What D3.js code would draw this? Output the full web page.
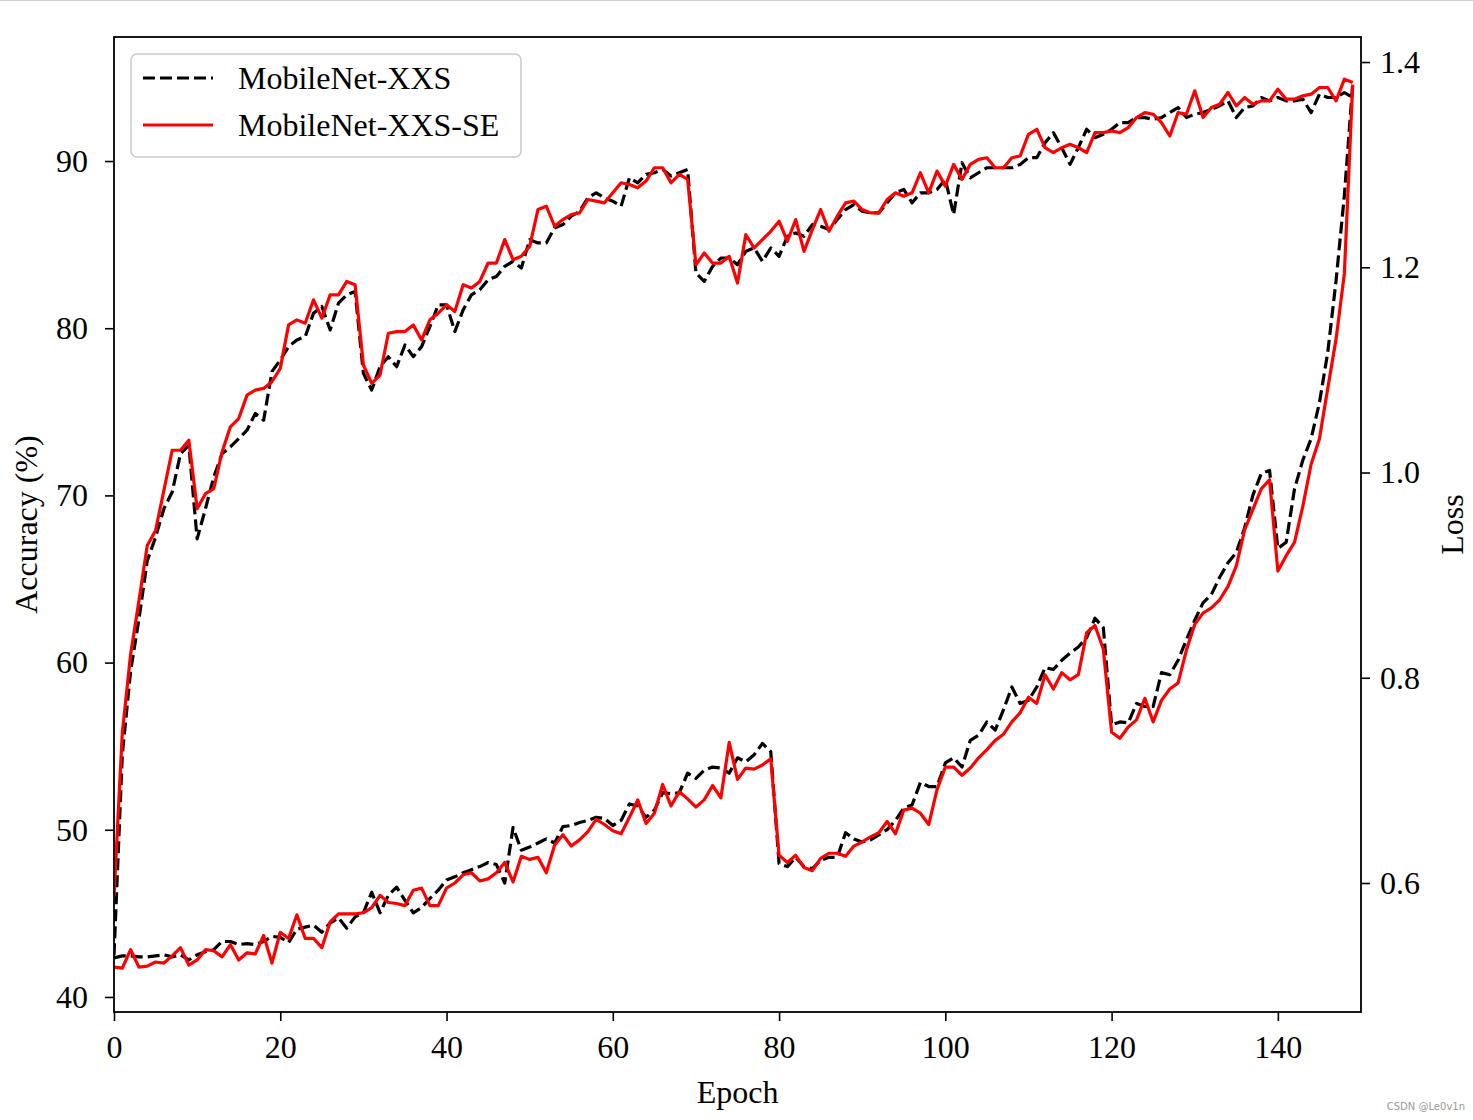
<!DOCTYPE html>
<html><head><meta charset="utf-8">
<script src="https://cdn.jsdelivr.net/npm/d3@7/dist/d3.min.js"></script>
<style>html,body{margin:0;padding:0;background:#fff;} svg{display:block;}</style>
</head><body>
<script>
const accXXS = [42.5,54.5,59.5,62.6,66.1,67.5,69.2,70.2,72.5,73.0,67.4,69.2,71.1,72.5,72.9,73.4,73.9,74.9,74.5,77.4,
78.1,78.9,79.3,79.5,80.9,81.3,79.9,81.5,82.0,82.2,77.3,76.3,77.7,78.3,77.7,79.0,78.3,78.9,80.1,81.4,
81.4,79.8,81.1,82.0,82.3,82.9,83.1,83.7,84.0,83.6,85.3,85.1,85.1,86.0,86.2,86.7,87.0,87.8,88.1,87.8,
87.6,87.3,89.0,88.7,89.2,89.3,89.5,89.1,89.3,89.5,83.3,82.8,83.7,84.2,84.2,83.8,84.6,84.8,84.0,84.8,
84.3,85.5,85.7,85.5,86.2,86.1,85.9,86.5,87.1,87.4,87.0,86.9,86.9,87.5,88.1,88.3,87.5,88.1,88.1,88.3,
88.9,86.8,89.9,89.0,89.3,89.6,89.6,89.6,89.6,89.8,90.2,90.2,91.1,91.7,90.8,89.8,90.8,91.9,91.4,91.6,
91.9,92.3,92.3,92.6,92.6,92.5,92.6,92.9,93.2,92.6,92.8,92.9,93.1,93.3,93.6,92.6,93.2,93.3,93.8,93.6,
93.8,93.6,93.6,93.7,92.9,94.0,93.8,93.8,94.1,93.8];
const accSE = [46.0,55.8,60.5,63.7,67.0,67.9,70.3,72.7,72.7,73.3,69.2,70.1,70.4,72.6,74.1,74.6,76.0,76.3,76.4,76.8,
77.6,80.2,80.5,80.3,81.7,80.6,82.0,82.0,82.8,82.6,77.8,76.7,77.2,79.7,79.8,79.8,80.2,79.3,80.5,80.9,
81.4,81.0,82.6,82.4,82.8,83.9,83.9,85.3,84.1,84.3,84.9,87.1,87.3,86.1,86.5,86.8,86.9,87.7,87.6,87.5,
88.1,88.7,88.6,88.4,88.8,89.6,89.6,88.7,89.2,88.9,83.8,84.5,83.9,83.9,84.3,82.7,85.6,84.8,85.3,85.8,
86.4,85.2,86.5,84.6,85.9,87.1,85.8,86.7,87.5,87.6,87.1,86.9,86.9,87.7,88.1,87.9,88.1,89.3,88.1,89.4,
88.5,89.8,88.9,89.8,90.1,90.2,89.6,89.6,90.2,90.3,91.6,91.9,90.8,90.5,90.8,91.0,90.8,90.5,91.7,91.7,
91.8,91.7,92.0,92.6,92.9,92.8,92.3,91.5,92.9,92.8,94.2,92.6,93.2,93.4,94.1,93.3,93.8,93.4,93.6,93.6,
94.3,93.7,93.7,93.9,94.0,94.4,94.4,93.6,94.9,94.7];
const lossXXS = [0.527,0.529,0.529,0.528,0.528,0.529,0.530,0.528,0.530,0.525,0.530,0.533,0.535,0.543,0.543,0.540,0.541,0.540,0.543,0.548,
0.547,0.542,0.555,0.557,0.559,0.552,0.561,0.566,0.556,0.567,0.571,0.591,0.571,0.588,0.596,0.583,0.571,0.576,0.585,0.593,
0.603,0.606,0.610,0.613,0.616,0.620,0.618,0.600,0.654,0.632,0.635,0.639,0.643,0.639,0.655,0.656,0.659,0.661,0.664,0.663,
0.656,0.661,0.677,0.675,0.664,0.671,0.688,0.687,0.688,0.707,0.702,0.710,0.713,0.712,0.707,0.722,0.718,0.725,0.736,0.728,
0.619,0.616,0.625,0.616,0.614,0.622,0.625,0.625,0.649,0.643,0.640,0.642,0.647,0.652,0.661,0.673,0.676,0.698,0.694,0.694,
0.717,0.722,0.713,0.739,0.744,0.757,0.749,0.769,0.791,0.775,0.778,0.791,0.810,0.808,0.817,0.824,0.830,0.839,0.858,0.849,
0.754,0.757,0.756,0.775,0.772,0.772,0.805,0.803,0.817,0.837,0.856,0.873,0.881,0.898,0.912,0.922,0.946,0.978,0.999,1.002,
0.926,0.932,0.984,1.012,1.033,1.068,1.117,1.187,1.270,1.378];
const lossSE = [0.518,0.517,0.535,0.518,0.519,0.523,0.522,0.529,0.537,0.520,0.525,0.535,0.534,0.528,0.540,0.525,0.532,0.531,0.549,0.522,
0.552,0.546,0.569,0.546,0.546,0.537,0.562,0.570,0.570,0.570,0.571,0.576,0.588,0.581,0.580,0.578,0.593,0.595,0.578,0.578,
0.595,0.600,0.608,0.610,0.602,0.604,0.610,0.620,0.601,0.626,0.623,0.625,0.610,0.637,0.647,0.636,0.642,0.650,0.662,0.657,
0.651,0.648,0.664,0.681,0.658,0.668,0.696,0.675,0.689,0.682,0.674,0.681,0.695,0.683,0.737,0.701,0.712,0.711,0.715,0.721,
0.627,0.620,0.627,0.615,0.612,0.624,0.629,0.629,0.626,0.636,0.640,0.645,0.649,0.660,0.648,0.671,0.673,0.668,0.657,0.691,
0.713,0.713,0.705,0.712,0.722,0.730,0.739,0.745,0.757,0.766,0.781,0.775,0.803,0.789,0.805,0.798,0.803,0.844,0.851,0.828,
0.747,0.741,0.752,0.759,0.780,0.757,0.778,0.789,0.795,0.827,0.852,0.863,0.868,0.876,0.889,0.909,0.944,0.964,0.984,0.993,
0.904,0.919,0.932,0.967,1.008,1.033,1.082,1.130,1.194,1.378];
const xTicks = [0,20,40,60,80,100,120,140];
const accTicks = [40,50,60,70,80,90];
const lossTicks = [0.6,0.8,1.0,1.2,1.4];
const seriesNames = ["MobileNet-XXS","MobileNet-XXS-SE"];

const W = 1473, H = 1120;
const L = 114, R = 1361, T = 37, B = 1012;
const FONT = "'Liberation Serif','Times New Roman',serif";
const FS = 32;

const svg = d3.select("body").append("svg").attr("width", W).attr("height", H);
svg.append("rect").attr("width", W).attr("height", H).attr("fill", "#fff");
svg.append("line").attr("x1",0).attr("x2",W).attr("y1",0.5).attr("y2",0.5).attr("stroke","#d0d0d0").attr("stroke-width",1);

const x = d3.scaleLinear().domain([0,150]).range([L,R]);
const yA = d3.scaleLinear().domain([39.10,97.42]).range([B,T]);
const yL = d3.scaleLinear().domain([0.4743,1.4244]).range([B,T]);

const lineA = d3.line().x((d,i)=>x(i)).y(d=>yA(d));
const lineL = d3.line().x((d,i)=>x(i)).y(d=>yL(d));

const g = svg.append("g");
g.append("defs").append("clipPath").attr("id","clip").append("rect")
  .attr("x",L).attr("y",T).attr("width",R-L).attr("height",B-T);
const plot = g.append("g").attr("clip-path","url(#clip)");

function draw(data, gen, color, dashed){
  plot.append("path").datum(data).attr("d", gen).attr("fill","none")
    .attr("stroke", color).attr("stroke-width", 3.2)
    .attr("stroke-dasharray", dashed ? "12,5" : null)
    .attr("stroke-linejoin","round");
}
draw(accXXS, lineA, "#000", true);
draw(accSE, lineA, "#ff0000", false);
draw(lossXXS, lineL, "#000", true);
draw(lossSE, lineL, "#ff0000", false);

function styleAxis(sel){
  sel.selectAll("path.domain").remove();
  sel.selectAll(".tick line").attr("stroke","#000").attr("stroke-width",1.6);
  sel.selectAll(".tick text").attr("font-family",FONT).attr("font-size",FS).attr("fill","#000");
}
const ax = svg.append("g").attr("transform",`translate(0,${B})`)
  .call(d3.axisBottom(x).tickValues(xTicks).tickSize(9).tickPadding(14).tickFormat(d3.format("d")));
styleAxis(ax);
const ay = svg.append("g").attr("transform",`translate(${L},0)`)
  .call(d3.axisLeft(yA).tickValues(accTicks).tickSize(9).tickPadding(17).tickFormat(d3.format("d")));
styleAxis(ay);
const ayr = svg.append("g").attr("transform",`translate(${R},0)`)
  .call(d3.axisRight(yL).tickValues(lossTicks).tickSize(9).tickPadding(10).tickFormat(d3.format(".1f")));
styleAxis(ayr);

svg.append("rect").attr("x",L).attr("y",T).attr("width",R-L).attr("height",B-T)
  .attr("fill","none").attr("stroke","#000").attr("stroke-width",1.8);

svg.append("text").attr("x",(L+R)/2).attr("y",1103).attr("text-anchor","middle")
  .attr("font-family",FONT).attr("font-size",FS).text("Epoch");
svg.append("text").attr("transform",`translate(37,${(T+B)/2}) rotate(-90)`).attr("text-anchor","middle")
  .attr("font-family",FONT).attr("font-size",FS).text("Accuracy (%)");
svg.append("text").attr("transform",`translate(1463,${(T+B)/2}) rotate(-90)`).attr("text-anchor","middle")
  .attr("font-family",FONT).attr("font-size",FS).text("Loss");

// legend
const lg = svg.append("g");
lg.append("rect").attr("x",131).attr("y",54).attr("width",390).attr("height",103).attr("rx",6)
  .attr("fill","#fff").attr("fill-opacity",0.8).attr("stroke","#cccccc").attr("stroke-width",1.6);
const legendItems = [{name:seriesNames[0], color:"#000", dashed:true, y:78},{name:seriesNames[1], color:"#ff0000", dashed:false, y:125}];
legendItems.forEach(it=>{
  lg.append("line").attr("x1",143).attr("x2",213).attr("y1",it.y).attr("y2",it.y)
    .attr("stroke",it.color).attr("stroke-width",3.2).attr("stroke-dasharray", it.dashed ? "12,5" : null);
  lg.append("text").attr("x",238).attr("y",it.y).attr("dy","0.35em")
    .attr("font-family",FONT).attr("font-size",FS).text(it.name);
});

svg.append("text").attr("x",1465).attr("y",1110).attr("text-anchor","end")
  .attr("font-family","'DejaVu Sans',sans-serif").attr("font-size",10).attr("fill","#999").text("CSDN @Le0v1n");
</script>
</body></html>
